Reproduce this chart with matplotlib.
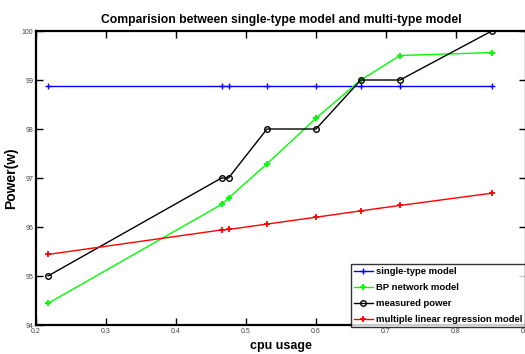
import matplotlib.pyplot as plt

plt.rcParams['font.family'] = ['Liberation Sans', 'DejaVu Sans']

# cpu usage samples and power readings (W)
cpu = [0.217, 0.465, 0.475, 0.53, 0.60, 0.664, 0.72, 0.851]
single_type = [98.88, 98.88, 98.88, 98.88, 98.88, 98.88, 98.88, 98.88]
bp_network = [94.44, 96.46, 96.59, 97.29, 98.22, 99.0, 99.50, 99.56]
measured = [95, 97, 97, 98, 98, 99, 99, 100]
linear_reg = [95.44, 95.94, 95.95, 96.06, 96.20, 96.33, 96.44, 96.69]

x_ticks = [0.2, 0.3, 0.4, 0.5, 0.6, 0.7, 0.8, 0.9]
y_ticks = [94, 95, 96, 97, 98, 99, 100]

fig = plt.figure(figsize=(5.25, 3.54), dpi=100)
ax = fig.add_axes([0.0686, 0.0819, 0.9333, 0.8305])

ax.plot(cpu, single_type, color='#0000ff', marker='+', ms=5, lw=1, label='single-type model')
ax.plot(cpu, bp_network, color='#00ff00', marker='+', ms=5, mew=1.5, lw=1, label='BP network model')
ax.plot(cpu, measured, color='black', marker='o', ms=4, mfc='none', lw=1, label='measured power')
ax.plot(cpu, linear_reg, color='#ff0000', marker='+', ms=5, mew=1.3, lw=1, label='multiple linear regression model')

ax.set_xlim(0.2, 0.9)
ax.set_ylim(94, 100)
ax.set_xticks(x_ticks)
ax.set_yticks(y_ticks)
ax.set_xticklabels([str(t) for t in x_ticks])
ax.tick_params(direction='in', length=5, width=1, labelsize=5, labelcolor='#444444',
               top=True, right=True, pad=2)
for s in ax.spines.values():
    s.set_linewidth(1.6)

ax.set_title('Comparision between single-type model and multi-type model',
             fontsize=8.7, fontweight='bold', pad=6)
ax.set_xlabel('cpu usage', fontsize=9, fontweight='bold', labelpad=4)
ax.set_ylabel('Power(w)', fontsize=10, fontweight='bold')
ax.yaxis.set_label_coords(-0.037, 0.5)

leg = ax.legend(loc='lower left', bbox_to_anchor=(351 / 525, 27 / 354), bbox_transform=fig.transFigure,
                fontsize=6.8, frameon=True, fancybox=False, borderpad=0.3, labelspacing=0.75,
                handlelength=2.0, handletextpad=0.3, borderaxespad=0)
leg.get_frame().set_edgecolor('black')
leg.get_frame().set_linewidth(1)
for t in leg.get_texts():
    t.set_fontweight('bold')

fig.savefig('out.png', dpi=100)
